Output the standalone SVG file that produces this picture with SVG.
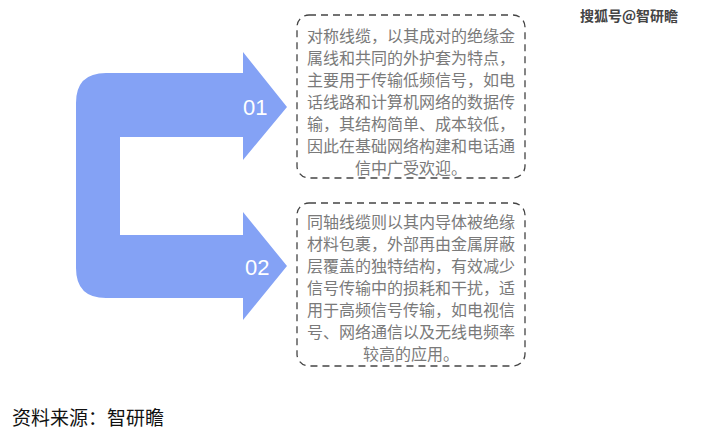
<svg xmlns="http://www.w3.org/2000/svg" width="705" height="437" viewBox="0 0 705 437">
<style>
.box{fill:#fff;stroke:#444;stroke-width:1.3;stroke-dasharray:7,5}
.t{font-family:"Noto Sans CJK SC",sans-serif;font-size:16px;fill:#7a7a7a;text-anchor:middle}
.n{font-family:"Liberation Sans",sans-serif;font-size:22px;fill:#fff}
</style>
<rect width="705" height="437" fill="#fff"/>
<g id="shape">
<path d="M106,73 H243 V52 L287,107 L243,160 V137 H120 V235 H243 V212 L287,266 L243,320 V298 H106 Q76,298 76,268 V103 Q76,73 106,73 Z" fill="#84a2f5"/>
<text class="n" x="243" y="115">01</text>
<text class="n" x="245" y="275">02</text>
</g>
<g id="box1">
<rect class="box" x="297" y="15" width="228" height="163" rx="12"/>
<text class="t"><tspan x="411" y="42">对称线缆，以其成对的绝缘金</tspan><tspan x="411" y="64">属线和共同的外护套为特点，</tspan><tspan x="411" y="86">主要用于传输低频信号，如电</tspan><tspan x="411" y="108">话线路和计算机网络的数据传</tspan><tspan x="411" y="130">输，其结构简单、成本较低，</tspan><tspan x="411" y="152">因此在基础网络构建和电话通</tspan><tspan x="411" y="174">信中广受欢迎。</tspan></text>
</g>
<g id="box2">
<rect class="box" x="297" y="203" width="228" height="163" rx="12"/>
<text class="t"><tspan x="411" y="228">同轴线缆则以其内导体被绝缘</tspan><tspan x="411" y="250">材料包裹，外部再由金属屏蔽</tspan><tspan x="411" y="272">层覆盖的独特结构，有效减少</tspan><tspan x="411" y="294">信号传输中的损耗和干扰，适</tspan><tspan x="411" y="316">用于高频信号传输，如电视信</tspan><tspan x="411" y="338">号、网络通信以及无线电频率</tspan><tspan x="411" y="360">较高的应用。</tspan></text>
</g>
<g id="connectors"/>
<text x="580" y="21" font-family="Noto Sans CJK SC,sans-serif" font-size="14" font-weight="bold" fill="#444">搜狐号@智研瞻</text>
<text x="12" y="425" font-family="Noto Sans CJK SC,sans-serif" font-size="19" fill="#111">资料来源：智研瞻</text>
</svg>
